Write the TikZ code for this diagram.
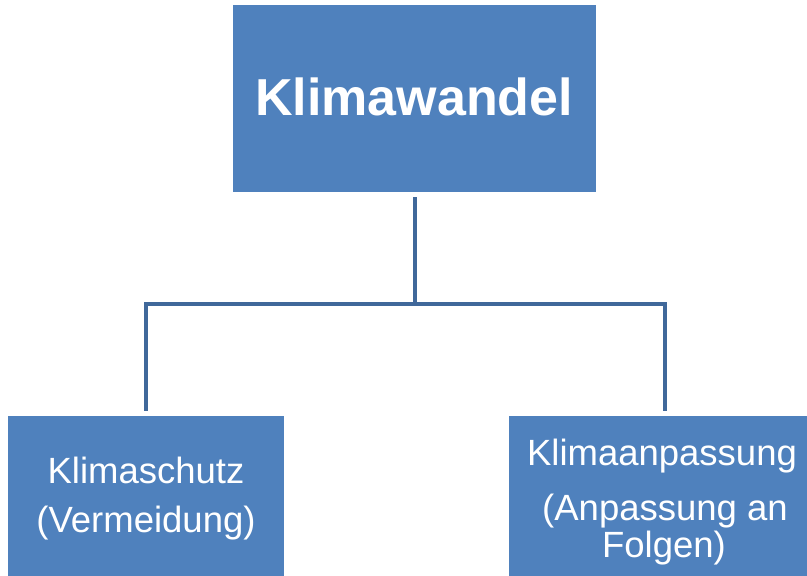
\documentclass[tikz,border=0pt]{standalone}
\usepackage{fontspec}
\setmainfont{Liberation Sans}
\definecolor{boxblue}{RGB}{79,129,189}
\definecolor{lineblue}{RGB}{64,104,154}
\begin{document}
\begin{tikzpicture}[x=1pt,y=-1pt,
  box/.style={rectangle,fill=boxblue,draw=none,inner sep=0pt},
  conn/.style={draw=lineblue,line width=4pt,line join=miter},
  txt/.style={text=white,anchor=base,inner sep=0pt},
  small/.style={txt,font=\fontsize{36.5}{40}\selectfont},
  big/.style={txt,font=\fontsize{52}{58}\bfseries\selectfont}]
\useasboundingbox (0,0) rectangle (807,576);
\node[box,minimum width=363pt,minimum height=187pt] (top) at (414.5,98.5) {};
\node[box,minimum width=276pt,minimum height=184pt] (left) at (146,508) {};
\node[box,minimum width=311pt,minimum height=184pt] (right) at (664.5,508) {};
\node[big] (t1) at (414,115) {Klimawandel};
\node[small] (l1) at (146,483) {Klimaschutz};
\node[small] (l2) at (146,532) {(Vermeidung)};
\node[small] (r1) at (662,465) {Klimaanpassung};
\node[small] (r2) at (665,520) {(Anpassung an};
\node[small] (r3) at (664,557) {Folgen)};
\coordinate (j) at (414.5,304);
\draw[conn] ([yshift=-5pt]top.south) -- (j);
\draw[conn] ([yshift=5pt]left.north) |- (j) -| ([yshift=5pt]right.north);
\end{tikzpicture}
\end{document}
